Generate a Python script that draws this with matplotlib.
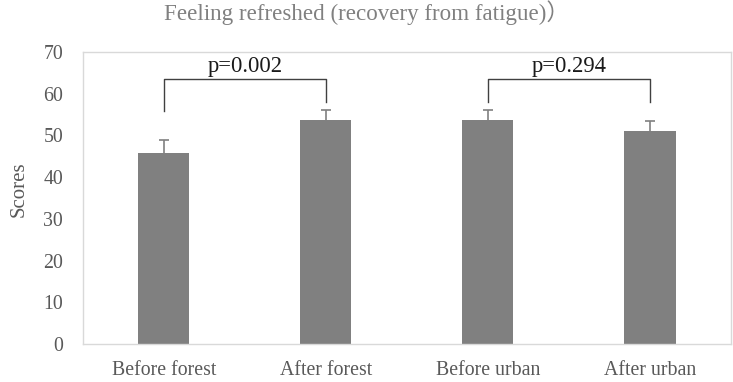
import matplotlib
matplotlib.use("Agg")
import matplotlib.pyplot as plt
import numpy as np

categories = ["Before forest", "After forest", "Before urban", "After urban"]
scores = [45.9, 53.6, 53.6, 51.1]
errors = [3.0, 2.5, 2.5, 2.4]
comparisons = [(0, 1, "p=0.002"), (2, 3, "p=0.294")]
bracket_top = [63.5, 63.5]
bracket_legs = [(55.9, 57.9), (58.1, 58.1)]
yticks = [0, 10, 20, 30, 40, 50, 60, 70]
title = "Feeling refreshed (recovery from fatigue)\uff09"

serif = ["Liberation Serif", "Noto Sans CJK JP", "DejaVu Serif"]
plt.rcParams["font.family"] = serif

fig = plt.figure(figsize=(7.33, 3.82), dpi=100)
ax = fig.add_axes([0.1128, 0.0995, 0.8845, 0.7644])

x = np.arange(len(categories))
ax.errorbar(x, scores, yerr=errors, fmt="none",
            ecolor="#808080", elinewidth=1.2, capsize=3.5, capthick=1.2, zorder=1)
ax.bar(x, scores, width=0.315, color="#808080", zorder=2)

for (i, j, label), top, (l1, l2) in zip(comparisons, bracket_top, bracket_legs):
    ax.plot([x[i], x[i], x[j], x[j]], [l1, top, top, l2], color="#404040", lw=1.0, zorder=4)
    ax.text((x[i] + x[j]) / 2, top + 0.6, label, ha="center", va="bottom",
            fontsize=16.3, color="#1a1a1a")

ax.set_xlim(-0.5, len(categories) - 0.5)
ax.set_ylim(0, 70)
ax.set_yticks(yticks)
ax.set_xticks(x)
ax.set_xticklabels(categories)
ax.tick_params(axis="both", length=0, labelsize=14.3, labelcolor="#595959", pad=12)
ax.tick_params(axis="y", pad=14)
for s in ax.spines.values():
    s.set_color("#d9d9d9")
    s.set_linewidth(1.0)
ax.set_ylabel("Scores", fontsize=15, color="#595959")
ax.yaxis.set_label_coords(-0.083, 0.53)

fig.suptitle(title, x=0.5, y=1.0, va="top", fontsize=16.6, color="#808080")

fig.savefig("out.png", dpi=100)
